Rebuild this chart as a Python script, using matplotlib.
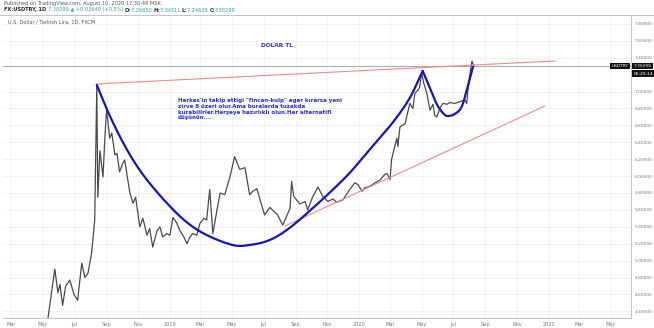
import numpy as np
import pandas as pd
import matplotlib
matplotlib.use("Agg")
import matplotlib.pyplot as plt
import matplotlib.dates as mdates

# ---------------- data ----------------
price_dates = ["2018-05-08","2018-05-11","2018-05-16","2018-05-24","2018-05-30","2018-06-03","2018-06-08",
    "2018-06-14","2018-06-22","2018-06-30","2018-07-07","2018-07-15","2018-07-21","2018-07-27","2018-08-03",
    "2018-08-09","2018-08-13","2018-08-15","2018-08-19","2018-08-25","2018-08-29","2018-09-01","2018-09-07",
    "2018-09-11","2018-09-17","2018-09-21","2018-09-26","2018-10-02","2018-10-06","2018-10-12","2018-10-16",
    "2018-10-22","2018-10-27","2018-11-04","2018-11-10","2018-11-18","2018-11-23","2018-11-29","2018-12-07",
    "2018-12-13","2018-12-18","2018-12-26","2019-01-01","2019-01-07","2019-01-14","2019-01-20","2019-01-28",
    "2019-02-03","2019-02-09","2019-02-14","2019-02-22","2019-02-28","2019-03-08","2019-03-13","2019-03-19",
    "2019-03-25","2019-04-02","2019-04-08","2019-04-17","2019-04-27","2019-05-06","2019-05-16","2019-05-26",
    "2019-06-04","2019-06-10","2019-06-18","2019-06-24","2019-07-03","2019-07-13","2019-07-21","2019-07-27",
    "2019-08-07","2019-08-21","2019-08-24","2019-08-28","2019-09-09","2019-09-19","2019-09-24","2019-10-04",
    "2019-10-14","2019-10-18","2019-10-23","2019-11-02","2019-11-12","2019-11-19","2019-12-01","2019-12-14",
    "2019-12-24","2019-12-30","2020-01-07","2020-01-12","2020-01-22","2020-02-01","2020-02-10","2020-02-20",
    "2020-02-24","2020-03-01","2020-03-04","2020-03-10","2020-03-14","2020-03-16","2020-03-20","2020-03-30",
    "2020-04-04","2020-04-08","2020-04-14","2020-04-18","2020-04-24","2020-04-27","2020-05-01","2020-05-05",
    "2020-05-11","2020-05-17","2020-05-23","2020-05-26","2020-05-30","2020-06-05","2020-06-11","2020-06-19",
    "2020-06-24","2020-07-04","2020-07-14","2020-07-23","2020-07-27","2020-07-29","2020-08-02","2020-08-06",
    "2020-08-10"]
price_values = [4.22,4.33,4.55,4.90,4.62,4.72,4.47,
    4.70,4.77,4.60,4.53,4.97,4.80,4.85,5.09,
    5.48,7.07,5.75,6.30,5.99,6.50,6.78,6.45,
    6.51,6.25,6.27,6.05,6.15,6.19,5.95,5.80,
    5.68,5.75,5.40,5.50,5.30,5.38,5.16,5.35,
    5.40,5.28,5.32,5.30,5.51,5.45,5.36,5.28,
    5.20,5.28,5.32,5.30,5.44,5.50,5.48,5.84,
    5.32,5.60,5.80,5.78,5.99,6.23,6.08,6.10,
    5.78,5.82,5.85,5.72,5.54,5.63,5.58,5.55,
    5.42,5.62,5.94,5.76,5.67,5.70,5.60,5.76,
    5.87,5.82,5.76,5.70,5.73,5.69,5.72,5.84,
    5.92,5.90,5.82,5.86,5.88,5.92,5.95,6.02,
    6.03,5.96,6.20,6.35,6.45,6.35,6.58,6.62,
    6.75,6.86,6.80,6.98,7.02,7.05,7.22,7.10,
    6.98,6.78,6.85,6.72,6.70,6.80,6.86,6.85,
    6.87,6.86,6.88,6.90,6.86,7.00,7.20,7.36,
    7.30]

# drawn annotations (anchor points)
cup_dates = ["2018-08-13","2018-09-02","2018-09-27","2018-10-22","2018-11-18","2018-12-26","2019-02-02",
    "2019-03-13","2019-05-02","2019-06-04","2019-07-13","2019-08-20","2019-10-04","2019-11-11","2019-12-14",
    "2020-01-16","2020-02-10","2020-03-10","2020-04-08","2020-05-03"]
cup_values = [7.078,6.782,6.463,6.191,5.954,5.682,5.457,5.303,5.185,5.185,5.244,5.386,5.622,5.836,6.037,
    6.273,6.451,6.664,6.924,7.244]
handle_dates = ["2020-05-03","2020-05-17","2020-05-30","2020-06-11","2020-06-20","2020-07-04","2020-07-17",
    "2020-07-27","2020-08-08"]
handle_values = [7.244,7.043,6.853,6.747,6.711,6.735,6.818,7.019,7.291]
upper_line_dates = ["2018-08-13","2021-01-13"]
upper_line_values = [7.09,7.362]
lower_line_dates = ["2019-08-11","2020-12-25"]
lower_line_values = [5.409,6.830]
last_price = 7.30299

y_ticks = [4.4,4.6,4.8,5.0,5.2,5.4,5.6,5.8,6.0,6.2,6.4,6.6,6.8,7.0,7.4,7.6,7.8]
x_tick_dates = ["2018-03-01","2018-05-01","2018-07-01","2018-09-01","2018-11-01","2019-01-01","2019-03-01",
    "2019-05-01","2019-07-01","2019-09-01","2019-11-01","2020-01-01","2020-03-01","2020-05-01","2020-07-01",
    "2020-09-01","2020-11-01","2021-01-01","2021-03-01","2021-05-01"]
x_tick_labels = ["Mar","May","Jul","Sep","Nov","2019","Mar","May","Jul","Sep","Nov","2020","Mar","May","Jul",
    "Sep","Nov","2021","Mar","May"]

# ---------------- helpers ----------------
def catmull(xs, ys, n=20):
    xs = np.asarray(xs, float); ys = np.asarray(ys, float)
    P = np.column_stack([xs, ys])
    P = np.vstack([2*P[0]-P[1], P, 2*P[-1]-P[-2]])
    out = []
    t = np.linspace(0, 1, n, endpoint=False)[:, None]
    for i in range(1, len(P)-2):
        p0, p1, p2, p3 = P[i-1], P[i], P[i+1], P[i+2]
        seg = 0.5*((2*p1) + (-p0+p2)*t + (2*p0-5*p1+4*p2-p3)*t**2 + (-p0+3*p1-3*p2+p3)*t**3)
        out.append(seg)
    out.append(P[-2][None, :])
    out = np.vstack(out)
    return out[:, 0], out[:, 1]

def dn(lst):
    return mdates.date2num(pd.to_datetime(lst))

W, H = 654, 328
fig = plt.figure(figsize=(W/100, H/100), dpi=100)
fig.patch.set_facecolor("white")
L, R, T, B = 3, 631, 15, 318
ax = fig.add_axes([L/W, (H-B)/H, (R-L)/W, (B-T)/H])

ax.set_xlim(mdates.date2num(pd.Timestamp("2018-02-13")), mdates.date2num(pd.Timestamp("2021-06-09")))
ax.set_ylim(4.321, 7.906)

ax.set_xticks(dn(x_tick_dates))
ax.set_xticklabels(x_tick_labels)
ax.set_yticks(y_ticks)
ax.set_yticklabels([f"{v:.5f}" for v in y_ticks])
ax.yaxis.tick_right()
ax.tick_params(axis="x", labelsize=3.6, colors="#777777", length=0, pad=3)
ax.tick_params(axis="y", labelsize=3.2, colors="#777777", length=0, pad=2.5)
ax.grid(True, color="#eef0f3", lw=0.6)
for s in ["top", "left"]:
    ax.spines[s].set_visible(False)
for s in ["right", "bottom"]:
    ax.spines[s].set_color("#bbbbbb")
    ax.spines[s].set_linewidth(0.6)

# price series
ax.plot(dn(price_dates), price_values, color="#4a4a4a", lw=0.9, zorder=3)

# last price line
ax.axhline(last_price, color="#9a9a9a", lw=0.6, zorder=2)

# trend lines
ax.plot(dn(upper_line_dates), upper_line_values, color="#ef8a8a", lw=0.8, zorder=4)
ax.plot(dn(lower_line_dates), lower_line_values, color="#ef8a8a", lw=0.8, zorder=4)

# cup & handle
cx, cy = catmull(dn(cup_dates), cup_values)
ax.plot(cx, cy, color="#1515b8", lw=1.6, zorder=5, solid_capstyle="round")
hx, hy = catmull(dn(handle_dates), handle_values)
ax.plot(hx, hy, color="#1515b8", lw=1.6, zorder=5, solid_capstyle="round")

# annotations
ax.text(mdates.date2num(pd.Timestamp("2019-07-26")), 7.55, "DOLAR TL", color="#2b2bd6",
        fontsize=4.2, fontweight="bold", ha="center", va="center")
note = ("Herkes'in takip ettigi \"fincan-kulp\" eger kırarsa yeni\n"
        "zirve 8 üzeri olur.Ama buralarda tuzakda\n"
        "kurabilirler.Herşeye hazırlıklı olun.Her alternatifi\n"
        "düşünün....")
ax.text(mdates.date2num(pd.Timestamp("2019-01-16")), 6.92, note, color="#2b2bd6",
        fontsize=4.0, fontweight="bold", ha="left", va="top", linespacing=1.15)

# price scale boxes
box = dict(boxstyle="square,pad=0.3", fc="#111111", ec="none")
ax.annotate("7.30299", xy=(1, last_price), xycoords=("axes fraction", "data"), xytext=(2, 0),
            textcoords="offset points", fontsize=3.2, color="white", va="center", ha="left", bbox=box,
            annotation_clip=False, zorder=10)
ax.annotate("06:29:14", xy=(1, last_price), xycoords=("axes fraction", "data"), xytext=(2, -5.5),
            textcoords="offset points", fontsize=3.2, color="white", va="center", ha="left", bbox=box,
            annotation_clip=False, zorder=10)
ax.annotate("USDTRY", xy=(1, last_price), xycoords=("axes fraction", "data"), xytext=(-1.5, 0),
            textcoords="offset points", fontsize=3.2, color="white", va="center", ha="right", bbox=box,
            annotation_clip=False, zorder=10)

# header
fig.text(4/W, 1-3/H, "Published on TradingView.com, August 10, 2020 17:30:48 MSK", fontsize=3.6,
         color="#555555", va="center", ha="left")
hdr = [("FX:USDTRY, 1D ", "#222222", "bold"), ("7.30299 ▲ +0.03649 (+0.5%) ", "#26a69a", "normal"),
       ("O:", "#222222", "bold"), ("7.26650 ", "#26a69a", "normal"), ("H:", "#222222", "bold"),
       ("7.34511 ", "#26a69a", "normal"), ("L:", "#222222", "bold"), ("7.24639 ", "#26a69a", "normal"),
       ("C:", "#222222", "bold"), ("7.30299", "#26a69a", "normal")]
fig.canvas.draw()
rend = fig.canvas.get_renderer()
xpos = 4/W
for s, c, w in hdr:
    t = fig.text(xpos, 1-10/H, s, fontsize=3.6, color=c, fontweight=w, va="center", ha="left")
    bb = t.get_window_extent(renderer=rend)
    xpos += bb.width/W
fig.add_artist(plt.Line2D([0, 1], [1-15/H, 1-15/H], color="#bbbbbb", lw=0.6))
fig.text(8/W, 1-22/H, "U.S. Dollar / Turkish Lira, 1D, FXCM", fontsize=3.6, color="#555555",
         va="center", ha="left")

fig.savefig("out.png", dpi=100)
